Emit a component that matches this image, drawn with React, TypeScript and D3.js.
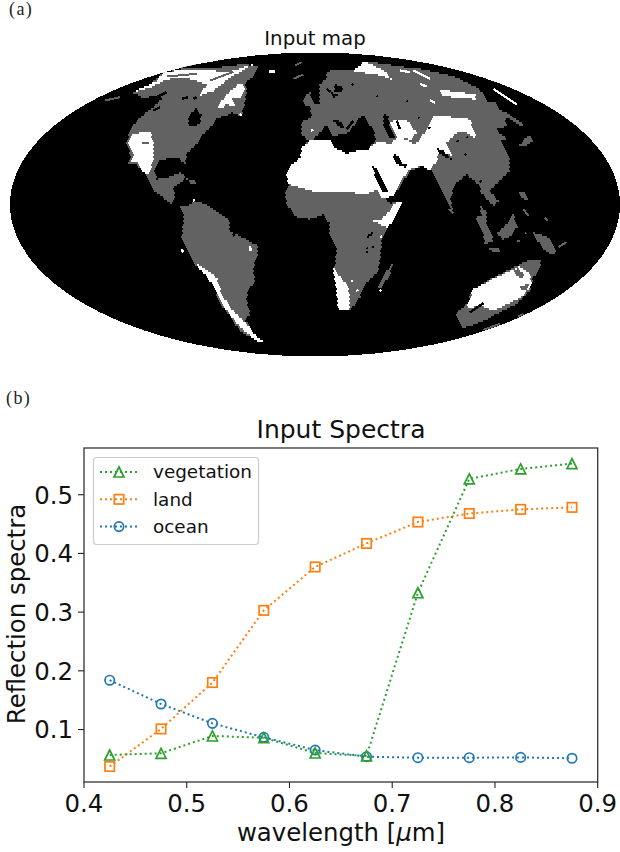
import React from "react";
import * as d3 from "d3";

// ---------- spectra ----------
const wavelengths = [0.425, 0.475, 0.525, 0.575, 0.625, 0.675, 0.725, 0.775, 0.825, 0.875];
const vegetation = [0.0566, 0.0595, 0.089, 0.086, 0.06, 0.055, 0.333, 0.527, 0.544, 0.553];
const land = [0.037, 0.101, 0.18, 0.303, 0.377, 0.417, 0.4535, 0.468, 0.475, 0.4785];
const ocean = [0.184, 0.1435, 0.1105, 0.0867, 0.065, 0.0537, 0.052, 0.052, 0.0525, 0.051];
const xTicks = [0.4, 0.5, 0.6, 0.7, 0.8, 0.9];
const yTicks = [0.1, 0.2, 0.3, 0.4, 0.5];

// ---------- map classes, traced in map units (x 0..1830, y 0..912) ----------
type P = [number, number];
const northAmerica: P[] = [[370,119],[420,94],[460,59],[530,44],[620,44],[700,34],[745,39],[730,69],[705,89],[710,114],[705,144],[695,189],[665,179],[650,189],[620,194],[605,219],[580,244],[560,274],[530,304],[525,339],[510,314],[480,314],[450,324],[435,354],[440,379],[470,374],[510,359],[530,374],[510,389],[490,404],[495,439],[485,454],[460,434],[430,414],[410,369],[380,334],[355,334],[365,314],[350,274],[360,229],[390,194],[415,174],[440,154],[460,134],[440,129],[400,134]];
const southAmerica: P[] = [[510,462],[545,454],[550,442],[590,454],[620,474],[660,504],[660,534],[690,549],[745,579],[740,614],[730,644],[735,684],[715,714],[710,744],[720,784],[705,799],[725,834],[740,854],[715,849],[690,834],[660,789],[635,759],[620,724],[610,689],[590,664],[555,634],[530,589],[515,554],[520,514],[520,484]];
const afroEurasia: P[] = [[825,419],[830,454],[860,494],[900,499],[940,484],[960,514],[960,544],[980,589],[975,639],[970,654],[980,714],[985,774],[1018,774],[1050,734],[1065,694],[1105,654],[1112,604],[1115,554],[1135,524],[1175,449],[1150,430],[1200,354],[1240,339],[1265,354],[1290,404],[1310,444],[1330,479],[1320,434],[1340,389],[1370,364],[1400,389],[1420,414],[1410,414],[1435,444],[1455,459],[1465,444],[1440,414],[1470,384],[1500,354],[1500,324],[1480,274],[1460,229],[1490,219],[1485,189],[1455,149],[1430,144],[1410,109],[1330,69],[1240,49],[1160,39],[1070,24],[1030,54],[970,49],[950,59],[950,74],[930,94],[930,154],[910,149],[900,119],[885,129],[880,154],[900,159],[905,194],[875,206],[875,244],[895,264],[875,284],[870,314],[835,344],[830,369],[835,394]];
const australia: P[] = [[1335,784],[1370,754],[1390,709],[1440,679],[1500,649],[1560,619],[1595,619],[1590,644],[1570,674],[1560,714],[1520,754],[1475,774],[1430,799],[1380,819],[1360,824]];
const madagascar: P[] = [[1150,624],[1140,639],[1125,664],[1105,694],[1105,709],[1115,704],[1140,664]];
const sumatra: P[] = [[1395,494],[1415,489],[1445,539],[1450,564],[1425,574],[1420,539]];
const borneo: P[] = [[1460,544],[1490,514],[1510,484],[1520,514],[1505,549],[1480,559]];
const java: P[] = [[1435,584],[1475,589],[1470,599],[1440,592]];
const malaya: P[] = [[1410,459],[1430,474],[1430,509],[1415,499]];
const newGuinea: P[] = [[1570,539],[1590,544],[1615,554],[1640,599],[1625,604],[1595,584]];
const philippines: P[] = [[1525,419],[1540,414],[1560,444],[1545,444]];
const japan: P[] = [[1555,244],[1570,264],[1535,284],[1530,276]];
const sakhalin: P[] = [[1480,174],[1540,214],[1535,222],[1475,184]];
const korea: P[] = [[1445,229],[1490,254],[1485,264],[1445,244]];
const cuba: P[] = [[525,374],[545,395],[565,395],[555,385]];

const sahara: P[] = [[835,344],[870,314],[875,284],[900,264],[960,259],[970,279],[1010,299],[1040,294],[1080,284],[1110,264],[1140,274],[1160,254],[1190,259],[1215,274],[1230,264],[1240,244],[1270,189],[1300,189],[1380,199],[1400,259],[1370,239],[1340,239],[1310,269],[1330,314],[1290,289],[1280,324],[1260,354],[1235,339],[1200,349],[1180,374],[1150,434],[1115,434],[1100,409],[1070,424],[1030,419],[970,416],[920,419],[870,404],[835,394],[830,369]];
const caucasus: P[] = [[1140,209],[1160,199],[1190,199],[1220,239],[1205,259],[1160,254]];
const mexicoDesert: P[] = [[355,274],[370,244],[420,234],[430,264],[430,324],[415,364],[395,354],[385,324],[360,329],[370,304]];
const labrador: P[] = [[620,164],[650,124],[690,89],[708,106],[690,134],[665,134],[675,164],[650,154],[635,169]];
const arctic: P[] = [[365,119],[410,99],[440,84],[460,59],[530,49],[590,49],[650,59],[730,34],[660,74],[610,114],[570,129],[590,94],[530,74],[470,79],[420,104]];
const andes: P[] = [[555,629],[595,654],[620,674],[635,724],[670,774],[715,819],[742,854],[765,869],[740,864],[705,834],[675,804],[640,759],[625,729],[610,699],[590,669],[565,646]];
const southAfrica: P[] = [[970,639],[980,659],[995,674],[1015,704],[1020,754],[1018,774],[985,774],[980,714],[972,664]];
const siberiaNorth: P[] = [[1065,24],[1085,34],[1130,59],[1145,79],[1100,64],[1060,59],[1030,54]];
const taymyr: P[] = [[1285,109],[1320,114],[1400,124],[1395,139],[1340,134],[1295,129]];
const westAustralia: P[] = [[1370,759],[1390,709],[1440,682],[1500,654],[1530,640],[1560,664],[1565,694],[1540,729],[1490,754],[1450,774],[1415,759],[1380,764]];
const horn: P[] = [[1175,449],[1160,444],[1140,474],[1115,499],[1090,504],[1110,514],[1135,524],[1160,484]];

const mediterranean: P[] = [[910,259],[930,239],[950,214],[970,249],[1015,239],[1035,214],[1045,194],[1065,189],[1090,234],[1100,259],[1075,289],[1040,294],[1010,302],[970,282],[960,259]];
const caspian: P[] = [[1120,184],[1135,189],[1140,224],[1160,259],[1140,254],[1120,214]];
const redSea: P[] = [[1085,329],[1110,364],[1135,419],[1120,419],[1095,369]];
const persianGulf: P[] = [[1150,299],[1165,309],[1175,334],[1195,334],[1190,344],[1165,334],[1150,319]];
const aden: P[] = [[1125,434],[1150,430],[1165,444],[1140,452]];
const hudson: P[] = [[535,189],[560,164],[575,189],[570,209],[545,224],[535,209]];
const baltic: P[] = [[975,94],[1000,104],[995,119],[975,114]];
const baltic2: P[] = [[965,119],[985,124],[970,134]];
const adriatic: P[] = [[965,199],[985,199],[1005,224],[990,224]];
const lakeVictoria: P[] = [[1070,549],[1085,536],[1088,544],[1075,554]];
const aralStreak: P[] = [[1280,284],[1300,294],[1330,322],[1320,319],[1295,309]];

const greyIn1: P[] = [[1510,654],[1525,644],[1545,669],[1530,679]];
const greyIn2: P[] = [[1530,699],[1560,694],[1550,714],[1535,714]];

const groundRegions: { tone: string; shapes: P[][] }[] = [
  { tone: "#626262", shapes: [northAmerica, southAmerica, afroEurasia, australia, madagascar, sumatra, borneo, java, malaya, newGuinea, philippines, japan, sakhalin, korea, cuba] },
  { tone: "#ffffff", shapes: [sahara, caucasus, mexicoDesert, labrador, arctic, andes, southAfrica, siberiaNorth, taymyr, westAustralia] },
  { tone: "#000000", shapes: [mediterranean, caspian, redSea, persianGulf, aden, hudson, baltic, baltic2, adriatic, lakeVictoria, aralStreak] },
  { tone: "#ffffff", shapes: [horn] },
  { tone: "#626262", shapes: [greyIn1, greyIn2] },
];

const greyStreaks: P[][] = [[[285,144],[330,134]],[[855,39],[875,29]],[[850,79],[880,66]],[[1645,584],[1670,569]],[[1420,832],[1470,814]],[[1525,792],[1540,784]],[[1315,469],[1330,482]],[[1500,520],[1525,525]],[[1540,470],[1555,490]],[[1520,565],[1530,565]],[[1605,495],[1612,505]],[[1545,540],[1550,545]],[[470,72],[560,64]],[[600,84],[670,58]],[[395,272],[418,272]]];
const whiteStreaks: P[][] = [[[778,57],[795,57]],[[1450,109],[1520,156]],[[1170,54],[1200,59]],[[1210,54],[1260,79]],[[1230,94],[1250,102]],[[1260,144],[1275,150]],[[690,184],[694,190]],[[845,369],[852,375]],[[1110,712],[1113,716]],[[1025,682],[1027,688]],[[1040,712],[1043,716]],[[1110,554],[1116,552]],[[515,590],[520,600]],[[550,440],[553,446]],[[905,230],[908,236]],[[720,580],[722,596]]];
const blackStreaks: P[][] = [[[440,134],[470,119]],[[430,174],[450,164]],[[515,139],[535,134]],[[550,139],[560,134]],[[1380,780],[1420,752]],[[1100,129],[1104,131]],[[1190,144],[1194,146]],[[1225,194],[1228,198]],[[1160,204],[1170,230]],[[1255,224],[1260,228]],[[1340,264],[1346,268]],[[1370,252],[1374,254]],[[1365,304],[1369,308]],[[1410,384],[1414,388]],[[1070,585],[1072,590]],[[1088,580],[1090,586]],[[1070,596],[1072,602]],[[670,544],[673,552]],[[1500,110],[1530,140]],[[1470,150],[1510,190]],[[950,110],[962,118]],[[1025,94],[1030,98]],[[480,45],[560,38]],[[1010,230],[1030,205]]];

// ---------- frame geometry ----------
const CELL = 6;
const mapX = d3.scaleLinear().domain([0, 1830]).range([10, 620]);
const mapY = d3.scaleLinear().domain([0, 912]).range([52.5, 356.5]);
const xScale = d3.scaleLinear().domain([0.4, 0.9]).range([84, 597.7]);
const yScale = d3.scaleLinear().domain([0.0106, 0.5796]).range([782, 448]);

function rasterize(shape: P[]): string {
  const xs = shape.map((p) => p[0]);
  const ys = shape.map((p) => p[1]);
  const [x0, x1] = d3.extent(xs) as [number, number];
  const [y0, y1] = d3.extent(ys) as [number, number];
  let out = "";
  const jStart = Math.floor(y0 / CELL);
  const jEnd = Math.ceil(y1 / CELL);
  for (let j = jStart; j <= jEnd; j++) {
    const shift = j % 2 === 0 ? 0 : CELL / 2;
    const iStart = Math.floor(x0 / CELL) - 1;
    const iEnd = Math.ceil(x1 / CELL) + 1;
    for (let i = iStart; i <= iEnd; i++) {
      const cx = i * CELL + shift;
      const cy = j * CELL;
      if (d3.polygonContains(shape, [cx, cy])) {
        const a = mapX(cx - CELL / 2);
        const b = mapY(cy - CELL / 2);
        const c = mapX(cx + CELL / 2);
        const e = mapY(cy + CELL / 2);
        out += `M${a.toFixed(1)} ${b.toFixed(1)}H${c.toFixed(1)}V${e.toFixed(1)}H${a.toFixed(1)}Z`;
      }
    }
  }
  return out;
}

const mapLine = d3.line<P>().x((p) => mapX(p[0])).y((p) => mapY(p[1]));

const FONT = "DejaVu Sans";
const GREEN = "#2ca02c";
const ORANGE = "#ff7f0e";
const BLUE = "#1f77b4";
const MS = 5;
const LW = 2;
const DASH = "2 3";

function Marker({ kind, x, y, color }: { kind: string; x: number; y: number; color: string }) {
  const common = { fill: "none", stroke: color, strokeWidth: 1.7 };
  if (kind === "circle") return <circle cx={x} cy={y} r={MS - 0.3} {...common} />;
  if (kind === "square") return <rect x={x - MS + 0.3} y={y - MS + 0.3} width={2 * MS - 0.6} height={2 * MS - 0.6} {...common} />;
  return <path d={`M${x} ${y - MS}L${x + MS} ${y + MS}H${x - MS}Z`} {...common} />;
}

const seriesList = [
  { values: ocean, color: BLUE, kind: "circle" },
  { values: land, color: ORANGE, kind: "square" },
  { values: vegetation, color: GREEN, kind: "triangle" },
];
const legendItems = [
  { label: "vegetation", color: GREEN, kind: "triangle" },
  { label: "land", color: ORANGE, kind: "square" },
  { label: "ocean", color: BLUE, kind: "circle" },
];

export default function App() {
  const rx = (mapX(1830) - mapX(0)) / 2;
  const ry = (mapY(912) - mapY(0)) / 2;
  const cx = mapX(915);
  const cy = mapY(456);
  const line = d3.line<number>().x((_, i) => xScale(wavelengths[i])).y((d) => yScale(d));
  return (
    <svg width={620} height={852} style={{ position: "absolute", left: 0, top: 0, display: "block", background: "#fff" }}>
      <defs>
        <clipPath id="globe">
          <ellipse cx={cx} cy={cy} rx={rx} ry={ry} />
        </clipPath>
      </defs>
      <text x={9} y={15} fontFamily="Liberation Serif" fontSize={18} letterSpacing={1.4} fill="#222">(a)</text>
      <text x={315} y={45} textAnchor="middle" fontFamily={FONT} fontSize={19.8} fill="#111">Input map</text>
      <ellipse cx={cx} cy={cy} rx={rx} ry={ry} fill="#000" shapeRendering="crispEdges" />
      <g clipPath="url(#globe)" shapeRendering="crispEdges">
        {groundRegions.map((layer, li) => (
          <path key={li} fill={layer.tone} d={layer.shapes.map(rasterize).join("")} />
        ))}
        {greyStreaks.map((s, i) => <path key={"g" + i} d={mapLine(s) as string} stroke="#626262" strokeWidth={2} fill="none" />)}
        {whiteStreaks.map((s, i) => <path key={"w" + i} d={mapLine(s) as string} stroke="#fff" strokeWidth={2.4} fill="none" />)}
        {blackStreaks.map((s, i) => <path key={"b" + i} d={mapLine(s) as string} stroke="#000" strokeWidth={2.4} fill="none" />)}
      </g>

      <text x={6} y={404} fontFamily="Liberation Serif" fontSize={18} letterSpacing={1.4} fill="#222">(b)</text>
      <text x={341} y={438} textAnchor="middle" fontFamily={FONT} fontSize={25} fill="#111">Input Spectra</text>

      {seriesList.map((s) => (
        <g key={s.kind}>
          <path d={line(s.values) as string} fill="none" stroke={s.color} strokeWidth={LW} strokeDasharray={DASH} />
          {s.values.map((v, i) => (
            <Marker key={i} kind={s.kind} x={xScale(wavelengths[i])} y={yScale(v)} color={s.color} />
          ))}
        </g>
      ))}

      <rect x={84} y={448} width={513.7} height={334} fill="none" stroke="#333" strokeWidth={1.3} />
      {xTicks.map((t) => (
        <g key={t}>
          <line x1={xScale(t)} x2={xScale(t)} y1={782} y2={788} stroke="#222" strokeWidth={1.1} />
          <text x={xScale(t)} y={811.5} textAnchor="middle" fontFamily={FONT} fontSize={24.4} fill="#111">{t.toFixed(1)}</text>
        </g>
      ))}
      {yTicks.map((t) => (
        <g key={t}>
          <line x1={78} x2={84} y1={yScale(t)} y2={yScale(t)} stroke="#222" strokeWidth={1.1} />
          <text x={73} y={yScale(t) + 8.9} textAnchor="end" fontFamily={FONT} fontSize={24.4} fill="#111">{t.toFixed(1)}</text>
        </g>
      ))}
      <text x={341} y={841} textAnchor="middle" fontFamily={FONT} fontSize={24.4} fill="#111">
        wavelength [<tspan fontStyle="italic">μ</tspan>m]
      </text>
      <text transform="translate(24.5,614) rotate(-90)" textAnchor="middle" fontFamily={FONT} fontSize={24.4} fill="#111">Reflection spectra</text>

      <rect x={93.5} y={457.5} width={165} height={87} rx={3} fill="#fff" fillOpacity={0.8} stroke="#ccc" strokeWidth={1.2} />
      {legendItems.map((it, i) => {
        const y = 472 + i * 27.3;
        return (
          <g key={it.label}>
            <line x1={100} x2={138} y1={y} y2={y} stroke={it.color} strokeWidth={LW} strokeDasharray={DASH} />
            <Marker kind={it.kind} x={119} y={y} color={it.color} />
            <text x={153} y={y + 6.3} fontFamily={FONT} fontSize={18.4} fill="#111">{it.label}</text>
          </g>
        );
      })}
    </svg>
  );
}
